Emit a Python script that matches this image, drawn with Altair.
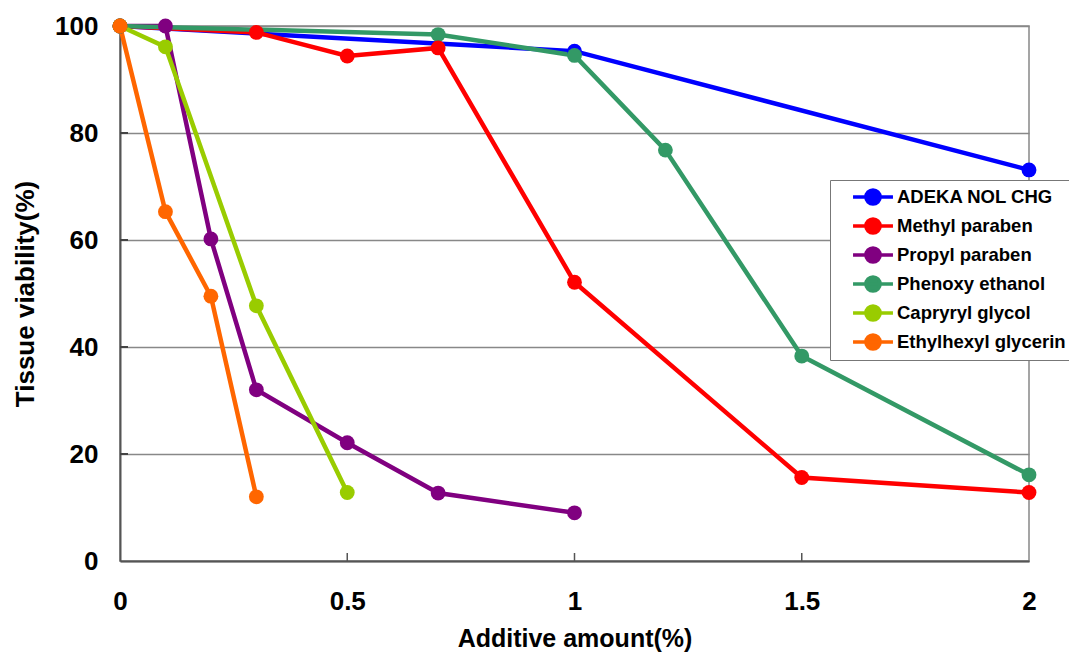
import altair as alt
import pandas as pd

series_names = ["ADEKA NOL CHG", "Methyl paraben", "Propyl paraben",
                "Phenoxy ethanol", "Capryryl glycol", "Ethylhexyl glycerin"]
series_colors = ["#0000FF", "#FF0000", "#800080", "#339966", "#99CC00", "#FF6600"]

adeka_x = [0, 1, 2]
adeka_y = [100, 95.3, 73.1]
methyl_x = [0, 0.3, 0.5, 0.7, 1, 1.5, 2]
methyl_y = [100, 98.8, 94.4, 95.9, 52.1, 15.6, 12.8]
propyl_x = [0, 0.1, 0.2, 0.3, 0.5, 0.7, 1]
propyl_y = [100, 100, 60.2, 32.0, 22.1, 12.7, 9.0]
phenoxy_x = [0, 0.7, 1, 1.2, 1.5, 2]
phenoxy_y = [100, 98.4, 94.5, 76.8, 38.3, 16.1]
capryryl_x = [0, 0.1, 0.3, 0.5]
capryryl_y = [100, 96.1, 47.7, 12.8]
ethyl_x = [0, 0.1, 0.2, 0.3]
ethyl_y = [100, 65.3, 49.5, 12.0]

x_ticks = [0, 0.5, 1, 1.5, 2]
y_ticks = [0, 20, 40, 60, 80, 100]

rows = []
for name, xs, ys in zip(series_names,
                        [adeka_x, methyl_x, propyl_x, phenoxy_x, capryryl_x, ethyl_x],
                        [adeka_y, methyl_y, propyl_y, phenoxy_y, capryryl_y, ethyl_y]):
    for i, (xv, yv) in enumerate(zip(xs, ys)):
        rows.append({"series": name, "x": xv, "y": yv, "order": i})
df = pd.DataFrame(rows)

FONT = "Liberation Sans, Arial, sans-serif"

xscale = alt.Scale(domain=[0, 2], nice=False, zero=False)
yscale = alt.Scale(domain=[0, 100], nice=False)

color = alt.Color("series:N",
                  scale=alt.Scale(domain=series_names, range=series_colors),
                  sort=series_names,
                  legend=alt.Legend(title=None, orient="none", legendX=710, legendY=154,
                                    symbolType="M-1.63,0 L1.63,0 M-0.58,0 A0.58,0.58 0 1,0 0.58,0 A0.58,0.58 0 1,0 -0.58,0",
                                    symbolSize=600, symbolStrokeWidth=3.5,
                                    labelFont=FONT, labelFontSize=18.5, labelFontWeight="bold",
                                    labelColor="black", labelOffset=10, symbolOffset=26,
                                    strokeColor="#777", fillColor="white", padding=3,
                                    rowPadding=-2.6, labelLimit=300))

base = alt.Chart(df).encode(
    x=alt.X("x:Q", scale=xscale,
            axis=alt.Axis(values=x_ticks, format="~g", title="Additive amount(%)",
                          grid=False, ticks=False, labelFlush=False,
                          labelPadding=27, titlePadding=12)),
    y=alt.Y("y:Q", scale=yscale,
            axis=alt.Axis(values=y_ticks, title="Tissue viability(%)", grid=True,
                          ticks=False, labelPadding=22, titlePadding=16,
                          titleFontSize=26)),
    color=color,
    order="order:Q",
)

lines = base.mark_line(strokeWidth=4.5)
points = base.mark_circle(size=220, opacity=1)

tick_df = pd.DataFrame({"t": [0.5, 1, 1.5]})
xticks_marks = alt.Chart(tick_df).mark_rule(color="#555", strokeWidth=1.5).encode(
    x=alt.X("t:Q", scale=xscale), y=alt.value(535), y2=alt.value(527))

ytick_df = pd.DataFrame({"t": [20, 40, 60, 80, 100]})
yticks_marks = alt.Chart(ytick_df).mark_rule(color="#444", strokeWidth=2).encode(
    y=alt.Y("t:Q", scale=yscale), x=alt.value(0), x2=alt.value(8))

chart = alt.layer(xticks_marks, yticks_marks, lines, points).properties(
    width=909, height=535,
    autosize=alt.AutoSizeParams(type="none"),
    padding={"left": 112, "top": 18, "right": 40, "bottom": 92},
).configure_view(stroke="#888", strokeWidth=1.5).configure_axis(
    labelFont=FONT, labelFontSize=26, labelFontWeight="bold", labelColor="black",
    titleFont=FONT, titleFontSize=25, titleFontWeight="bold", titleColor="black",
    domainColor="#555", domainWidth=2, gridColor="#888", gridWidth=1.5,
)

chart.save("out.html", embed_options={"renderer": "svg", "actions": False})
